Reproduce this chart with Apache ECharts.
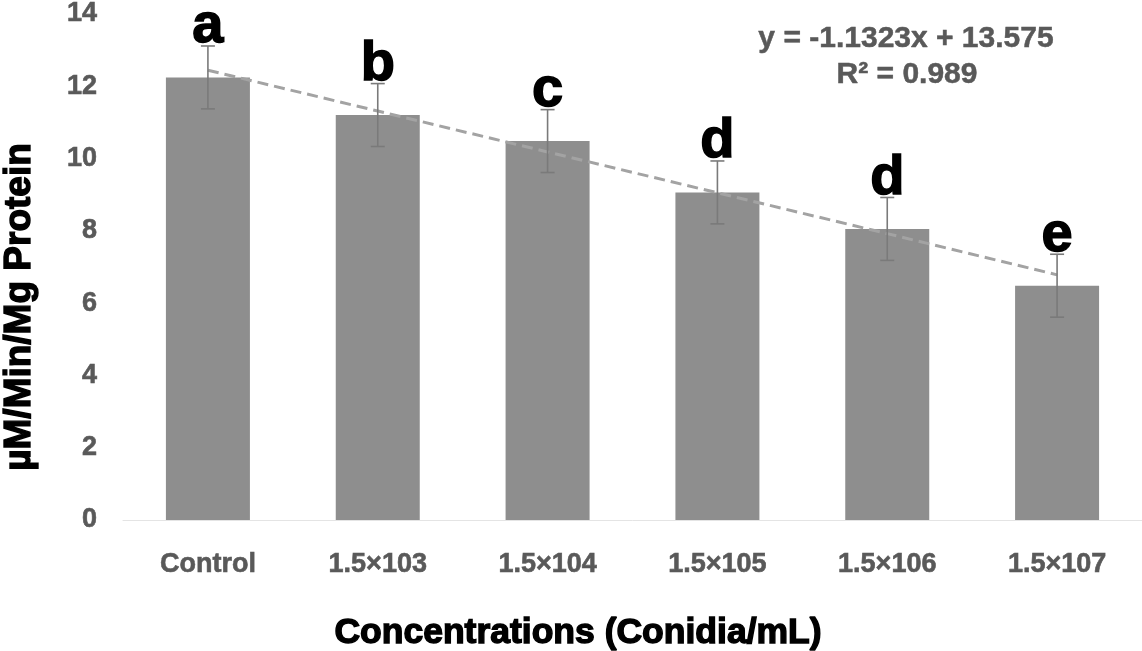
<!DOCTYPE html>
<html>
<head>
<meta charset="utf-8">
<script src="https://cdn.jsdelivr.net/npm/echarts@6/dist/echarts.min.js"></script>
<style>
  html, body { margin: 0; padding: 0; background: #fff; }
  #main { width: 1142px; height: 651px; }
</style>
</head>
<body>
<div id="main"></div>
<script>
// categories and values
const categories = ['Control', '1.5×103', '1.5×104', '1.5×105', '1.5×106', '1.5×107'];
const means = [12.24, 11.2, 10.48, 9.06, 8.05, 6.48];
const errors = [0.87, 0.87, 0.87, 0.87, 0.87, 0.87];
const letters = ['a', 'b', 'c', 'd', 'd', 'e'];
const trend = [12.44, 11.31, 10.18, 9.05, 7.92, 6.78];
const yTicks = [0, 2, 4, 6, 8, 10, 12, 14];

const chart = echarts.init(document.getElementById('main'));

const tickFont = {
    color: '#595959',
    fontFamily: 'Liberation Sans, Arial, sans-serif',
    fontWeight: 'bold',
    fontSize: 27,
    textBorderColor: '#595959',
    textBorderWidth: 0.6
};

chart.setOption({
    animation: false,
    grid: { left: 123, right: -3, top: 13, bottom: 131 },
    xAxis: {
        type: 'category',
        data: categories,
        axisLine: { show: true, lineStyle: { color: '#e4e4e4', width: 1 } },
        axisTick: { show: false },
        axisLabel: Object.assign({ margin: 31, interval: 0 }, tickFont),
        splitLine: { show: false }
    },
    yAxis: {
        type: 'value',
        min: yTicks[0],
        max: yTicks[yTicks.length - 1],
        interval: 2,
        axisLine: { show: false },
        axisTick: { show: false },
        splitLine: { show: false },
        axisLabel: Object.assign({ margin: 26 }, tickFont)
    },
    graphic: [
        {
            type: 'text',
            x: 20, y: 307,
            rotation: Math.PI / 2,
            style: {
                text: 'µM/Min/Mg Protein',
                fill: '#000',
                stroke: '#000',
                lineWidth: 1.4,
                font: 'bold 37px "Liberation Sans", Arial, sans-serif',
                align: 'center',
                verticalAlign: 'middle'
            }
        },
        {
            type: 'text',
            x: 578, y: 633,
            style: {
                text: 'Concentrations (Conidia/mL)',
                fill: '#000',
                stroke: '#000',
                lineWidth: 1.4,
                font: 'bold 35.5px "Liberation Sans", Arial, sans-serif',
                align: 'center',
                verticalAlign: 'middle'
            }
        },
        {
            type: 'text',
            x: 906, y: 39,
            style: {
                text: 'y = -1.1323x + 13.575',
                fill: '#595959',
                stroke: '#595959',
                lineWidth: 0.5,
                font: 'bold 30px "Liberation Sans", Arial, sans-serif',
                align: 'center',
                verticalAlign: 'middle'
            }
        },
        {
            type: 'text',
            x: 907, y: 75,
            style: {
                text: 'R² = 0.989',
                fill: '#595959',
                stroke: '#595959',
                lineWidth: 0.5,
                font: 'bold 30px "Liberation Sans", Arial, sans-serif',
                align: 'center',
                verticalAlign: 'middle'
            }
        }
    ],
    series: [
        {
            type: 'bar',
            data: means,
            barWidth: 84,
            itemStyle: { color: '#8e8e8e' },
            z: 1
        },
        {
            type: 'line',
            data: trend,
            symbol: 'none',
            lineStyle: { color: '#a3a3a3', width: 3, type: [11, 6] },
            z: 2
        },
        {
            type: 'custom',
            data: means.map((m, i) => [i, m, errors[i]]),
            z: 3,
            renderItem(params, api) {
                const i = api.value(0);
                const m = api.value(1);
                const e = api.value(2);
                const hi = api.coord([i, m + e]);
                const lo = api.coord([i, m - e]);
                const cap = 7;
                const line = { stroke: '#7a7a7a', lineWidth: 1.6 };
                return {
                    type: 'group',
                    children: [
                        { type: 'line', shape: { x1: hi[0], y1: hi[1], x2: lo[0], y2: lo[1] }, style: line },
                        { type: 'line', shape: { x1: hi[0] - cap, y1: hi[1], x2: hi[0] + cap, y2: hi[1] }, style: line },
                        { type: 'line', shape: { x1: lo[0] - cap, y1: lo[1], x2: lo[0] + cap, y2: lo[1] }, style: line },
                        {
                            type: 'text',
                            x: hi[0], y: hi[1] + 9,
                            style: {
                                text: letters[params.dataIndex],
                                fill: '#000',
                                stroke: '#000',
                                lineWidth: 1.5,
                                font: 'bold 56px "Liberation Sans", Arial, sans-serif',
                                align: 'center',
                                verticalAlign: 'bottom'
                            }
                        }
                    ]
                };
            }
        }
    ]
});
</script>
</body>
</html>
